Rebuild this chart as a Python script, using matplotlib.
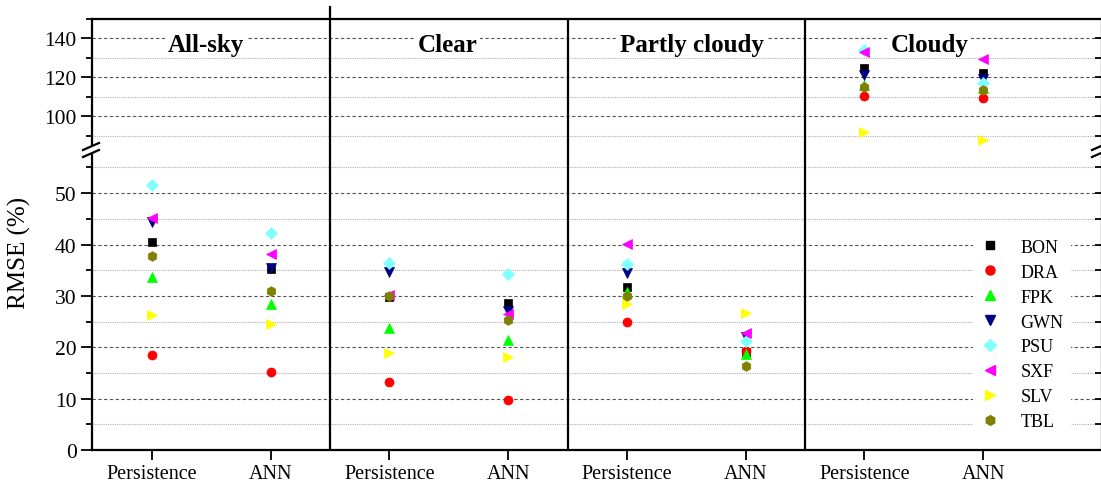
import numpy as np
import matplotlib.pyplot as plt
from matplotlib.lines import Line2D
from matplotlib.patches import Polygon
from matplotlib.ticker import MultipleLocator, FixedLocator

plt.rcParams['font.family'] = ['Liberation Serif', 'DejaVu Serif']

groups = ['All-sky', 'Clear', 'Partly cloudy', 'Cloudy']
methods = ['Persistence', 'ANN']
stations = ['BON', 'DRA', 'FPK', 'GWN', 'PSU', 'SXF', 'SLV', 'TBL']

# RMSE (%) for each station, ordered:
# all-sky P/ANN, clear P/ANN, partly cloudy P/ANN, cloudy P/ANN
bon = [40.4, 35.3, 29.8, 28.7, 31.8, 19.0, 125.1, 122.2]
dra = [18.5, 15.1, 13.3, 9.7, 25.0, 19.3, 110.6, 109.7]
fpk = [33.7, 28.5, 23.7, 21.5, 30.8, 18.7, 116.3, 114.6]
gwn = [44.3, 35.4, 34.6, 27.1, 34.4, 22.0, 121.4, 119.2]
psu = [51.6, 42.2, 36.5, 34.2, 36.2, 21.3, 134.2, 117.1]
sxf = [45.1, 38.1, 30.1, 26.5, 40.2, 22.7, 133.3, 129.4]
slv = [26.3, 24.5, 18.9, 18.2, 28.4, 26.7, 92.0, 87.7]
tbl = [37.8, 31.0, 30.0, 25.3, 30.0, 16.4, 114.9, 113.7]

series = [bon, dra, fpk, gwn, psu, sxf, slv, tbl]
markers = ['s', 'o', '^', 'v', 'D', '<', '>', 'h']
sizes = [5.5, 6.5, 7.5, 7.5, 6.0, 7.5, 7.5, 7.0]
colors = ['#000000', '#FF0000', '#00FF00', '#000080',
          '#80FFFF', '#FF00FF', '#FFFF00', '#808000']

x = np.arange(1, 2 * len(groups) + 1)
xlabels = methods * len(groups)

W, H = 1101, 485
fig = plt.figure(figsize=(W / 100, H / 100), dpi=100)


def fx(px):
    return px / W


def fy(py):
    return 1 - py / H


left, right = fx(92), fx(1102)
top, brk, bottom = fy(20), fy(150), fy(451)
ax_hi = fig.add_axes([left, brk, right - left, top - brk])
ax_lo = fig.add_axes([left, bottom, right - left, brk - bottom])

ax_lo.set_ylim(0, 58.6)
ax_hi.set_ylim(83.3, 150)

for ax in (ax_hi, ax_lo):
    ax.set_xlim(0.495, 9.0)
    for s, m, ms, c, name in zip(series, markers, sizes, colors, stations):
        ax.plot(x, s, ls='none', marker=m, ms=ms, color=c, mec=c, mew=0.5,
                label=name, zorder=3)
    ax.grid(True, axis='y', which='major', ls=(0, (3, 2.2)), color='#555555', lw=0.8)
    ax.grid(True, axis='y', which='minor', ls=(0, (1, 1)), color='#b0b0b0', lw=0.8)
    ax.set_axisbelow(True)
    for xs in (2.5, 4.5, 6.5):
        ax.axvline(xs, color='k', lw=1.6, zorder=4)
    for sp in ax.spines.values():
        sp.set_linewidth(1.6)
    ax.tick_params(axis='y', which='major', direction='out', length=8, width=1.3,
                   labelsize=15.5, pad=3)
    ax.tick_params(axis='y', which='minor', direction='out', length=4.5, width=1.3)

# y ticks on each side of the break
ax_lo.yaxis.set_major_locator(MultipleLocator(10))
ax_lo.yaxis.set_minor_locator(MultipleLocator(5))
ax_hi.yaxis.set_major_locator(FixedLocator([100, 120, 140]))
ax_hi.yaxis.set_minor_locator(FixedLocator([90, 110, 130, 150]))

ax_hi.spines['bottom'].set_visible(False)
ax_lo.spines['top'].set_visible(False)
ax_hi.tick_params(axis='x', bottom=False, labelbottom=False)
ax_lo.set_xticks(x)
ax_lo.set_xticklabels(xlabels)
ax_lo.tick_params(axis='x', direction='out', length=7, width=1.3, labelsize=14.5, pad=3)

# inward ticks on the right side
for ax in (ax_hi, ax_lo):
    tw = ax.twinx()
    tw.set_ylim(ax.get_ylim())
    tw.yaxis.set_major_locator(ax.yaxis.get_major_locator())
    tw.yaxis.set_minor_locator(ax.yaxis.get_minor_locator())
    tw.tick_params(axis='y', which='both', direction='in', length=5, width=1.3,
                   labelright=False)
    for sp in tw.spines.values():
        sp.set_visible(False)

# first separator pokes above the frame
ax_hi.plot([2.5, 2.5], [150, 156.2], color='k', lw=1.6, clip_on=False, zorder=4)

# panel titles
title_x = [1.45, 3.49, 5.55, 7.55]
for tx, name in zip(title_x, groups):
    ax_hi.text(tx, 136.9, name, ha='center', va='center', fontsize=18,
               fontweight='bold', zorder=5,
               bbox=dict(facecolor='white', edgecolor='none', pad=1.5))

fig.text(fx(19), fy(253), 'RMSE (%)', rotation=90, ha='center', va='center',
         fontsize=18)

# axis break marks
for x0 in (83, 1092):
    x1 = x0 + 16
    gap = Polygon([(fx(x0), fy(151)), (fx(x1), fy(144)), (fx(x1), fy(151)),
                   (fx(x0), fy(158))], closed=True, transform=fig.transFigure,
                  facecolor='white', edgecolor='none', zorder=10)
    fig.add_artist(gap)
    for y0, y1 in ((151, 144), (158, 151)):
        fig.add_artist(Line2D([fx(x0), fx(x1)], [fy(y0), fy(y1)], color='k',
                              lw=1.6, transform=fig.transFigure, zorder=11))

handles = [Line2D([], [], ls='none', marker=m, ms=ms, color=c, mec=c)
           for m, ms, c in zip(markers, sizes, colors)]
leg = ax_lo.legend(handles, stations, loc='center',
                   bbox_to_anchor=(fx(1022), fy(335.5)),
                   bbox_transform=fig.transFigure, fontsize=13,
                   handlelength=1.0, handletextpad=1.2, labelspacing=0.44,
                   borderpad=0.4, frameon=True, fancybox=False,
                   facecolor='white', edgecolor='none', framealpha=1)
leg.set_zorder(6)

fig.savefig('out.png', dpi=100)
